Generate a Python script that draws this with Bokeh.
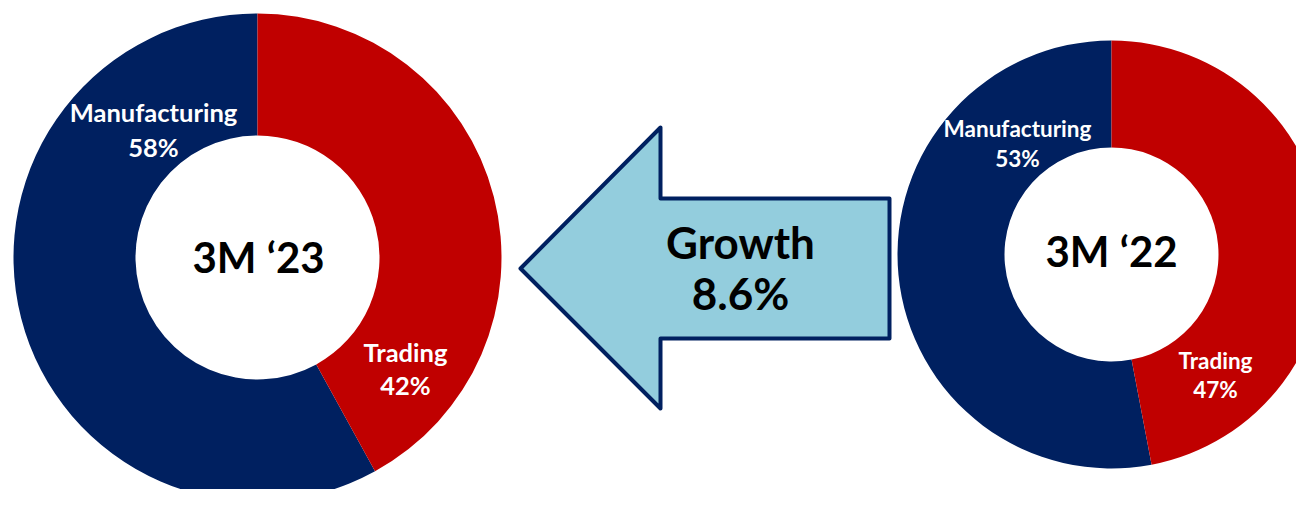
import numpy as np
from bokeh.plotting import figure
from bokeh.models import Range1d, ColumnDataSource
from bokeh.core.properties import value
from bokeh.embed import file_html
from bokeh.resources import INLINE

# ---- data ----
segments = ["Manufacturing", "Trading"]
share_23 = [58, 42]
share_22 = [53, 47]
period_23 = "3M \u201823"
period_22 = "3M \u201822"
growth_label = "Growth"
growth_pct = 8.6

NAVY = "#002060"
RED = "#C00000"
ARROW_FILL = "#93CDDD"
FONT = "Lato"

W, H = 1296, 489
p = figure(width=W, height=H, output_backend="svg", toolbar_location=None,
           x_range=Range1d(0, W), y_range=Range1d(505 - H, 505),
           min_border=0, outline_line_color=None, background_fill_color="white")
p.axis.visible = False
p.grid.visible = False

def Y(ry):
    return 505 - ry

def donut(cx, cy, r_out, r_in, shares):
    fr = np.array(shares, dtype=float) / sum(shares)
    ends = np.pi / 2 + 2 * np.pi * np.cumsum(fr)
    starts = np.concatenate([[np.pi / 2], ends[:-1]])
    src = ColumnDataSource(dict(x=[cx] * len(shares), y=[Y(cy)] * len(shares),
                                start=starts, end=ends, color=[NAVY, RED]))
    p.annular_wedge(x="x", y="y", inner_radius=r_in, outer_radius=r_out,
                    start_angle="start", end_angle="end", fill_color="color",
                    line_color=None, source=src)

donut(257, 257, 244, 122, share_23)
donut(1111, 254, 214, 107, share_22)

def label(x, ry, txt, size, color):
    # ry: baseline in reference pixels; compensate renderer's baseline offset
    p.text(x=[x], y=[Y(ry - 0.4 * size)], text=[txt], text_font=value(FONT),
           text_font_style="bold", text_font_size=f"{size}px", text_color=color,
           text_align="center", text_baseline="alphabetic")

# left donut labels
label(153, 122, segments[0], 25.5, "white")
label(153, 157, f"{share_23[0]}%", 25.5, "white")
label(405, 362, segments[1], 25.5, "white")
label(405, 395, f"{share_23[1]}%", 25.5, "white")
label(258, 273, period_23, 42, "black")

# right donut labels
label(1017, 137, segments[0], 22.5, "white")
label(1017, 167, f"{share_22[0]}%", 22.5, "white")
label(1215, 369, segments[1], 22.5, "white")
label(1215, 398, f"{share_22[1]}%", 22.5, "white")
label(1111, 267, period_22, 42, "black")

# arrow
ax = [520, 660, 660, 889, 889, 660, 660]
ay = [268, 127, 198, 198, 338, 338, 408]
p.patch(x=ax, y=[Y(v) for v in ay], fill_color=ARROW_FILL, line_color=NAVY,
        line_width=4, line_join="round")
label(740, 259, growth_label, 44, "black")
label(740, 310, f"{growth_pct}%", 44, "black")

open("out.html", "w").write(file_html(p, INLINE))
